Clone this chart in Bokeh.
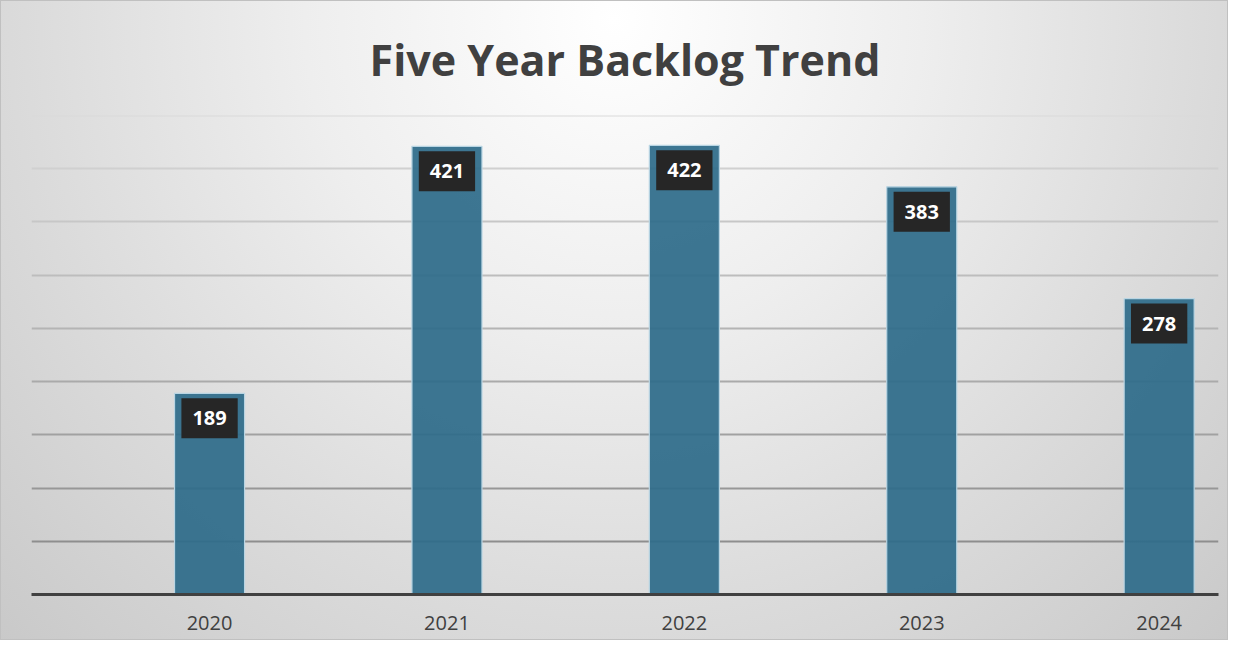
from bokeh.plotting import figure
from bokeh.models import Range1d, FixedTicker, ColumnDataSource
from bokeh.core.properties import value
from bokeh.embed import file_html
from bokeh.resources import INLINE

years = ["2020", "2021", "2022", "2023", "2024"]
backlog = [189, 421, 422, 383, 278]
grid_levels = [50, 100, 150, 200, 250, 300, 350, 400, 450]

FONT = "Open Sans"
TXT = "#404040"

idx = list(range(len(years)))
src = ColumnDataSource(dict(x=idx, y=backlog, lab=[str(v) for v in backlog]))

p = figure(width=1228, height=640, output_backend="svg", toolbar_location=None,
           x_range=Range1d(-0.75, len(years) - 0.75), y_range=Range1d(0, 450),
           min_border_left=30, min_border_right=11, min_border_top=114, min_border_bottom=47)
p.border_fill_color = None
p.background_fill_color = None
p.outline_line_color = None
p.styles = {"background": "radial-gradient(ellipse 72% 140% at 50% 3%, #ffffff 0%, #eeeeee 35%, #dcdcdc 65%, #c8c8c8 100%)",
            "border": "1px solid #c0c0c0"}

p.title.text = "Five Year Backlog Trend"
p.title.align = "center"
p.title.vertical_align = "top"
p.title.text_font = FONT
p.title.text_font_size = "43px"
p.title.text_font_style = "bold"
p.title.text_color = TXT
p.title.standoff = 50

p.xgrid.visible = False
p.ygrid.visible = False
p.yaxis.visible = False

# gridlines, darker toward the bottom
n = len(grid_levels)
cols = []
for i, lv in enumerate(grid_levels):
    t = i / (n - 1)
    c = int(0x8e + (0xda - 0x8e) * t)
    cols.append("#%02x%02x%02x" % (c, c, c))
p.hspan(y=grid_levels, line_color=cols, line_width=2)

p.vbar(x="x", top="y", width=0.295, source=src, fill_color="#2e6c8a", fill_alpha=0.93,
       line_color="#b9d5e3", line_width=1.2)

p.text(x="x", y="y", text="lab", source=src, y_offset=25, text_align="center",
       text_baseline="middle", text_color="white", text_font=value(FONT),
       text_font_size="20px", text_font_style="bold",
       background_fill_color="#262626", padding=(11, 13))

ax = p.xaxis[0]
ax.ticker = FixedTicker(ticks=idx)
ax.major_label_overrides = {i: y for i, y in zip(idx, years)}
ax.axis_line_color = "#404040"
ax.axis_line_width = 3
ax.major_tick_line_color = None
ax.minor_tick_line_color = None
ax.major_label_standoff = 15
ax.major_label_text_font = FONT
ax.major_label_text_font_size = "20px"
ax.major_label_text_color = TXT

open("out.html", "w").write(file_html(p, INLINE))
